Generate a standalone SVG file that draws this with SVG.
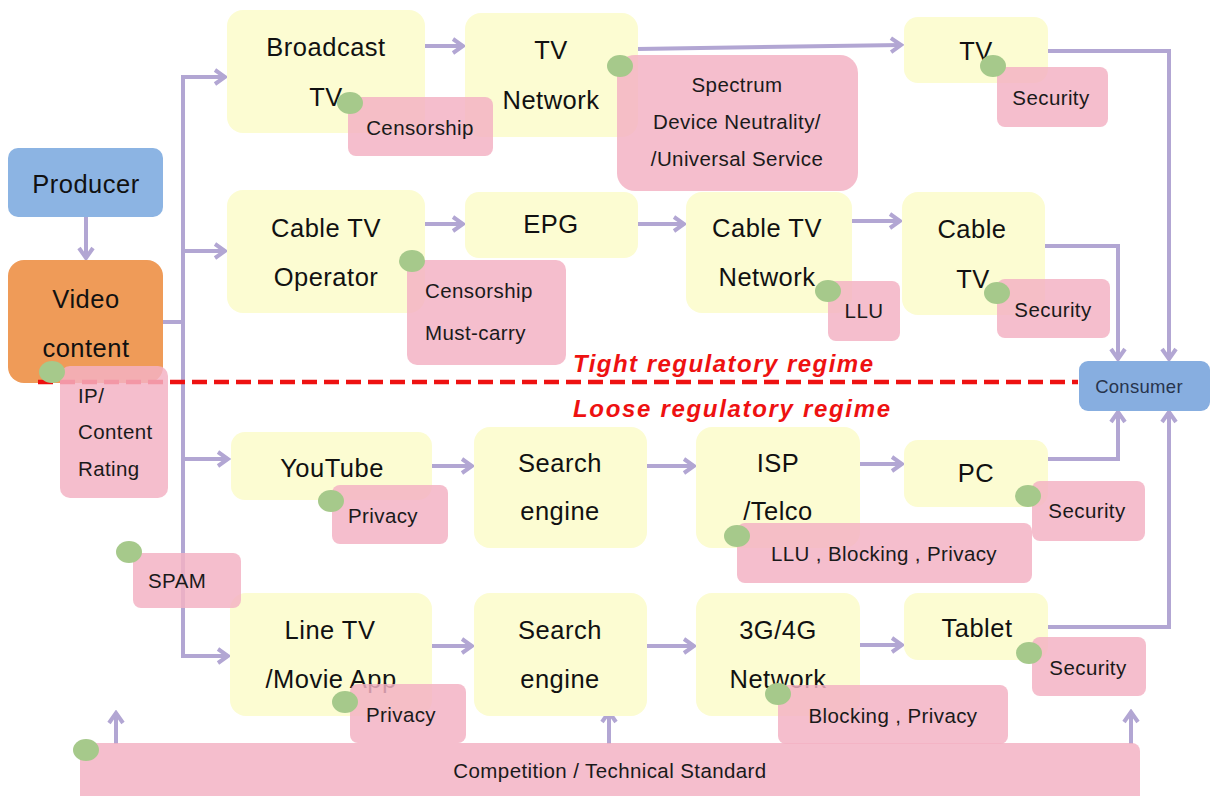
<svg xmlns="http://www.w3.org/2000/svg" width="1210" height="796" viewBox="0 0 1210 796">
  <defs>
    <marker id="arrow" markerUnits="userSpaceOnUse" markerWidth="16" markerHeight="18" viewBox="0 0 16 18" refX="13" refY="9" orient="auto">
      <path d="M3,2 L13,9 L3,16" fill="none" stroke="#b2a6d3" stroke-width="4" stroke-linejoin="miter"/>
    </marker>
    <style>
      .node { fill: #fcfcd2; }
      .note { fill: #f3b1c4; fill-opacity: 0.84; }
      .dot { fill: #a6c98b; }
      .wire { fill: none; stroke: #b2a6d3; stroke-width: 4; }
      .wire-a { fill: none; stroke: #b2a6d3; stroke-width: 4; marker-end: url(#arrow); }
      .t { font-family: "Liberation Sans", Arial, sans-serif; font-size: 25.5px; fill: #111; text-anchor: middle; letter-spacing: 0.5px; }
      .s { font-family: "Liberation Sans", Arial, sans-serif; font-size: 20.5px; fill: #1a1a1a; text-anchor: middle; letter-spacing: 0.4px; }
      .sl { text-anchor: start; }
      .regime { font-family: "Liberation Sans", Arial, sans-serif; font-size: 24px; font-weight: bold; font-style: italic; fill: #ee1111; }
    </style>
  </defs>

  <!-- connectors -->
  <g id="connectors">
    <!-- producer to content -->
    <path class="wire-a" d="M86,211 V258"/>
    <path d="M80,205 L86,212" fill="none" stroke="#8f84b8" stroke-width="1.5"/>
    <!-- content to distribution trunk -->
    <path class="wire" d="M163,322 H185"/>
    <path class="wire" d="M183,75 V658"/>
    <path class="wire-a" d="M181,77 H225"/>
    <path class="wire-a" d="M181,251 H225"/>
    <path class="wire-a" d="M181,459 H228"/>
    <path class="wire-a" d="M181,656 H228"/>
    <!-- broadcast chain -->
    <path class="wire-a" d="M425,46 H463"/>
    <path class="wire-a" d="M637,49 L901,45"/>
    <path class="wire-a" d="M1048,51 H1169 V359"/>
    <!-- cable chain -->
    <path class="wire-a" d="M425,224 H463"/>
    <path class="wire-a" d="M638,224 H684"/>
    <path class="wire-a" d="M851,221 H900"/>
    <path class="wire-a" d="M1045,246 H1118 V359"/>
    <!-- internet chain -->
    <path class="wire-a" d="M432,466 H472"/>
    <path class="wire-a" d="M647,466 H694"/>
    <path class="wire-a" d="M860,464 H902"/>
    <path class="wire-a" d="M1048,459 H1118 V412"/>
    <!-- mobile chain -->
    <path class="wire-a" d="M432,646 H472"/>
    <path class="wire-a" d="M647,646 H694"/>
    <path class="wire-a" d="M860,645 H902"/>
    <path class="wire-a" d="M1048,627 H1169 V412"/>
    <!-- competition arrows -->
    <path class="wire-a" d="M116,744 V713"/>
    <path class="wire-a" d="M609,744 V712"/>
    <path class="wire-a" d="M1131,744 V712"/>
  </g>

  <!-- sources -->
  <g id="producer">
    <rect x="8" y="148" width="155" height="69" rx="10" fill="#8cb4e3"/>
    <text class="t" x="86" y="193">Producer</text>
  </g>
  <g id="video-content">
    <rect x="8" y="260" width="155" height="123" rx="16" fill="#ef9b58"/>
    <text class="t" x="86" y="308">Video</text>
    <text class="t" x="86" y="357">content</text>
  </g>

  <!-- service nodes -->
  <g id="broadcast-tv">
    <rect class="node" x="227" y="10" width="198" height="123" rx="16"/>
    <text class="t" x="326" y="56">Broadcast</text>
    <text class="t" x="326" y="106">TV</text>
  </g>
  <g id="tv-network">
    <rect class="node" x="465" y="13" width="173" height="124" rx="16"/>
    <text class="t" x="551" y="59">TV</text>
    <text class="t" x="551" y="109">Network</text>
  </g>
  <g id="tv">
    <rect class="node" x="904" y="17" width="144" height="66" rx="14"/>
    <text class="t" x="976" y="60">TV</text>
  </g>
  <g id="cable-operator">
    <rect class="node" x="227" y="190" width="198" height="123" rx="16"/>
    <text class="t" x="326" y="237">Cable TV</text>
    <text class="t" x="326" y="286">Operator</text>
  </g>
  <g id="epg">
    <rect class="node" x="465" y="192" width="173" height="66" rx="14"/>
    <text class="t" x="551" y="233">EPG</text>
  </g>
  <g id="cable-network">
    <rect class="node" x="686" y="192" width="166" height="121" rx="16"/>
    <text class="t" x="767" y="237">Cable TV</text>
    <text class="t" x="767" y="286">Network</text>
  </g>
  <g id="cable-tv">
    <rect class="node" x="902" y="192" width="143" height="123" rx="16"/>
    <text class="t" x="972" y="238">Cable</text>
    <text class="t" x="973" y="288">TV</text>
  </g>
  <g id="youtube">
    <rect class="node" x="231" y="432" width="201" height="68" rx="14"/>
    <text class="t" x="332" y="477">YouTube</text>
  </g>
  <g id="search-engine-1">
    <rect class="node" x="474" y="427" width="173" height="121" rx="16"/>
    <text class="t" x="560" y="472">Search</text>
    <text class="t" x="560" y="520">engine</text>
  </g>
  <g id="isp-telco">
    <rect class="node" x="696" y="427" width="164" height="121" rx="16"/>
    <text class="t" x="778" y="472">ISP</text>
    <text class="t" x="778" y="520">/Telco</text>
  </g>
  <g id="pc">
    <rect class="node" x="904" y="440" width="144" height="67" rx="14"/>
    <text class="t" x="976" y="482">PC</text>
  </g>
  <g id="line-tv">
    <rect class="node" x="230" y="593" width="202" height="123" rx="16"/>
    <text class="t" x="330" y="639">Line TV</text>
    <text class="t" x="331" y="688">/Movie App</text>
  </g>
  <g id="search-engine-2">
    <rect class="node" x="474" y="593" width="173" height="123" rx="16"/>
    <text class="t" x="560" y="639">Search</text>
    <text class="t" x="560" y="688">engine</text>
  </g>
  <g id="mobile-network">
    <rect class="node" x="696" y="593" width="164" height="123" rx="16"/>
    <text class="t" x="778" y="639">3G/4G</text>
    <text class="t" x="778" y="688">Network</text>
  </g>
  <g id="tablet">
    <rect class="node" x="904" y="593" width="144" height="67" rx="14"/>
    <text class="t" x="977" y="637">Tablet</text>
  </g>

  <!-- regime divider -->
  <g id="regime-divider">
    <path d="M38,382 H1078" fill="none" stroke="#ee1111" stroke-width="4.5" stroke-dasharray="15 7"/>
    <text class="regime" x="573" y="372" textLength="300" lengthAdjust="spacing">Tight regulatory regime</text>
    <text class="regime" x="573" y="417" textLength="317" lengthAdjust="spacing">Loose regulatory regime</text>
  </g>

  <g id="consumer">
    <rect x="1079" y="361" width="131" height="50" rx="9" fill="#87aee0"/>
    <text x="1139" y="393" font-family="'Liberation Sans', Arial, sans-serif" font-size="18.5" fill="#27344d" text-anchor="middle" letter-spacing="0.3">Consumer</text>
  </g>

  <!-- regulatory issues -->
  <g id="issue-broadcast">
    <rect class="note" x="348" y="97" width="145" height="59" rx="8"/>
    <text class="s" x="420" y="135">Censorship</text>
    <ellipse class="dot" cx="350" cy="103" rx="13" ry="11"/>
  </g>
  <g id="issue-tv-network">
    <rect class="note" x="617" y="55" width="241" height="136" rx="18"/>
    <text class="s" x="737" y="92">Spectrum</text>
    <text class="s" x="737" y="129">Device Neutrality/</text>
    <text class="s" x="737" y="166">/Universal Service</text>
    <ellipse class="dot" cx="620" cy="66" rx="13" ry="11"/>
  </g>
  <g id="issue-tv">
    <rect class="note" x="997" y="67" width="111" height="60" rx="8"/>
    <text class="s" x="1051" y="105">Security</text>
    <ellipse class="dot" cx="993" cy="66" rx="13" ry="11"/>
  </g>
  <g id="issue-cable-operator">
    <rect class="note" x="407" y="260" width="159" height="105" rx="10"/>
    <text class="s sl" x="425" y="298">Censorship</text>
    <text class="s sl" x="425" y="340">Must-carry</text>
    <ellipse class="dot" cx="412" cy="261" rx="13" ry="11"/>
  </g>
  <g id="issue-cable-network">
    <rect class="note" x="828" y="281" width="72" height="60" rx="8"/>
    <text class="s" x="864" y="318">LLU</text>
    <ellipse class="dot" cx="828" cy="291" rx="13" ry="11"/>
  </g>
  <g id="issue-cable-tv">
    <rect class="note" x="997" y="279" width="113" height="59" rx="8"/>
    <text class="s" x="1053" y="317">Security</text>
    <ellipse class="dot" cx="997" cy="293" rx="13" ry="11"/>
  </g>
  <g id="issue-content">
    <rect class="note" x="60" y="366" width="108" height="132" rx="10"/>
    <text class="s sl" x="78" y="403">IP/</text>
    <text class="s sl" x="78" y="439">Content</text>
    <text class="s sl" x="78" y="476">Rating</text>
    <ellipse class="dot" cx="52" cy="372" rx="13" ry="11"/>
  </g>
  <g id="issue-youtube">
    <rect class="note" x="332" y="485" width="116" height="59" rx="8"/>
    <text class="s" x="383" y="523">Privacy</text>
    <ellipse class="dot" cx="331" cy="501" rx="13" ry="11"/>
  </g>
  <g id="issue-isp">
    <rect class="note" x="737" y="523" width="295" height="60" rx="8"/>
    <text class="s" x="884" y="561">LLU , Blocking , Privacy</text>
    <ellipse class="dot" cx="737" cy="536" rx="13" ry="11"/>
  </g>
  <g id="issue-pc">
    <rect class="note" x="1032" y="481" width="113" height="60" rx="8"/>
    <text class="s" x="1087" y="518">Security</text>
    <ellipse class="dot" cx="1028" cy="496" rx="13" ry="11"/>
  </g>
  <g id="issue-spam">
    <rect class="note" x="133" y="553" width="108" height="55" rx="8"/>
    <text class="s sl" x="148" y="588">SPAM</text>
    <ellipse class="dot" cx="129" cy="552" rx="13" ry="11"/>
  </g>
  <g id="issue-line-tv">
    <rect class="note" x="350" y="684" width="116" height="59" rx="8"/>
    <text class="s" x="401" y="722">Privacy</text>
    <ellipse class="dot" cx="345" cy="702" rx="13" ry="11"/>
  </g>
  <g id="issue-mobile">
    <rect class="note" x="778" y="685" width="230" height="59" rx="8"/>
    <text class="s" x="893" y="723">Blocking , Privacy</text>
    <ellipse class="dot" cx="778" cy="694" rx="13" ry="11"/>
  </g>
  <g id="issue-tablet">
    <rect class="note" x="1032" y="637" width="114" height="59" rx="8"/>
    <text class="s" x="1088" y="675">Security</text>
    <ellipse class="dot" cx="1029" cy="653" rx="13" ry="11"/>
  </g>
  <g id="issue-competition">
    <rect class="note" x="80" y="743" width="1060" height="70" rx="8"/>
    <text class="s" x="610" y="778">Competition / Technical Standard</text>
    <ellipse class="dot" cx="86" cy="750" rx="13" ry="11"/>
  </g>
</svg>
